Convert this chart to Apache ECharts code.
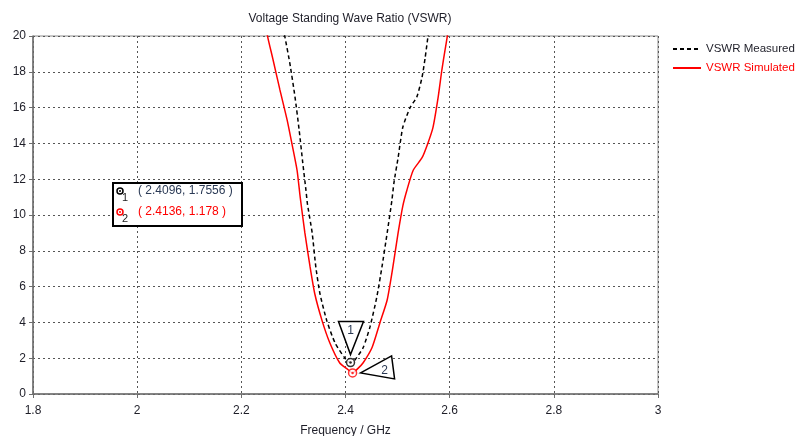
<!DOCTYPE html>
<html>
<head>
<meta charset="utf-8">
<script src="https://cdn.jsdelivr.net/npm/echarts@6/dist/echarts.min.js"></script>
<style>
  html, body { margin: 0; padding: 0; background: #fff; }
  #main { width: 797px; height: 436px; }
</style>
</head>
<body>
<div id="main"></div>
<script>
// measured curve (GHz, VSWR)
var freqMeasured = [2.270, 2.284, 2.293, 2.303, 2.311, 2.318, 2.324, 2.327, 2.336, 2.343, 2.351, 2.364, 2.380, 2.399, 2.4096, 2.418, 2.434, 2.447, 2.460, 2.470, 2.480, 2.489, 2.493, 2.501, 2.510, 2.524, 2.537, 2.547, 2.553, 2.558, 2.563];
var vswrMeasured = [22.0, 19.9, 18.5, 16.6, 14.75, 12.9, 11.4, 10.6, 9.0, 7.1, 5.6, 4.1, 2.85, 2.0, 1.7556, 1.9, 2.6, 3.75, 5.4, 7.1, 9.0, 10.8, 11.8, 13.2, 14.9, 16.0, 16.6, 17.7, 18.8, 19.9, 21.0];
// simulated curve
var freqSimulated = [2.240, 2.251, 2.261, 2.274, 2.288, 2.297, 2.307, 2.313, 2.322, 2.332, 2.341, 2.355, 2.370, 2.389, 2.402, 2.4136, 2.424, 2.4336, 2.451, 2.466, 2.480, 2.491, 2.501, 2.510, 2.518, 2.530, 2.547, 2.558, 2.568, 2.578, 2.585, 2.591, 2.595, 2.600];
var vswrSimulated = [21.5, 19.9, 18.66, 17.0, 15.3, 14.0, 12.5, 11.0, 9.0, 7.1, 5.6, 4.1, 2.85, 1.73, 1.43, 1.178, 1.43, 1.73, 2.6, 3.97, 5.25, 7.1, 9.0, 10.5, 11.4, 12.5, 13.2, 14.0, 14.9, 16.6, 18.1, 19.2, 19.9, 21.0];
// markers
var markerNames = ['1', '2'];
var markerFreq = [2.4096, 2.4136];
var markerVswr = [1.7556, 1.178];
var markerColors = ['#000000', '#ff0000'];
var seriesNames = ['VSWR Measured', 'VSWR Simulated'];

var fontFam = '"Liberation Sans", Arial, sans-serif';

function zip(xs, ys) {
  return xs.map(function (x, i) { return [x, ys[i]]; });
}

var chart = echarts.init(document.getElementById('main'));
var option = {
  animation: false,
  textStyle: { fontFamily: fontFam },
  title: {
    text: 'Voltage Standing Wave Ratio (VSWR)',
    left: 345, top: 8, textAlign: 'center',
    textStyle: { fontSize: 12, fontWeight: 'normal', color: '#1e1e28', fontFamily: fontFam }
  },
  legend: {
    data: [
      { name: seriesNames[0], textStyle: { color: '#1e1e28' } },
      { name: seriesNames[1], textStyle: { color: '#ff0000' } }
    ],
    orient: 'vertical',
    left: 672, top: 43, padding: 0,
    itemWidth: 28, itemHeight: 12, itemGap: 7,
    itemStyle: { opacity: 0 },
    textStyle: { fontSize: 11.5, fontFamily: fontFam }
  },
  grid: {
    left: 33, right: 139, top: 36, bottom: 42,
    outerBoundsMode: 'none',
    show: true, borderColor: '#8c8c8c', borderWidth: 1
  },
  xAxis: {
    type: 'value', min: 1.8, max: 3, interval: 0.2,
    name: 'Frequency / GHz', nameLocation: 'middle', nameGap: 31,
    nameTextStyle: { fontSize: 12, color: '#1e1e28', fontFamily: fontFam },
    axisLine: { lineStyle: { color: '#6e6e6e', width: 1.5 } },
    axisTick: { show: true, length: 4, lineStyle: { color: '#6e6e6e' } },
    axisLabel: { fontSize: 12, color: '#1e1e28', margin: 11,
      formatter: function (v) { return String(Math.round(v * 10) / 10); } },
    splitLine: { lineStyle: { color: '#555', type: [2, 3], width: 1 } }
  },
  yAxis: {
    type: 'value', min: 0, max: 20, interval: 2,
    axisLine: { show: true, lineStyle: { color: '#6e6e6e', width: 1.5 } },
    axisTick: { show: true, length: 4, lineStyle: { color: '#6e6e6e' } },
    axisLabel: { fontSize: 12, color: '#1e1e28', margin: 7 },
    splitLine: { lineStyle: { color: '#555', type: [2, 3], width: 1 } }
  },
  series: [
    {
      name: seriesNames[0], type: 'line', symbol: 'none', smooth: 0.2, clip: true,
      data: zip(freqMeasured, vswrMeasured),
      lineStyle: { color: '#000', width: 1.5, type: [4, 3] },
      itemStyle: { color: '#000' }, z: 3
    },
    {
      name: seriesNames[1], type: 'line', symbol: 'none', smooth: 0.2, clip: true,
      data: zip(freqSimulated, vswrSimulated),
      lineStyle: { color: '#ff0000', width: 1.5 },
      itemStyle: { color: '#ff0000' }, z: 2
    },
    {
      name: 'marker ring', type: 'scatter', symbol: 'circle', symbolSize: 8, z: 5,
      data: markerFreq.map(function (f, i) {
        return { value: [f, markerVswr[i]],
          itemStyle: { color: '#fff', borderColor: markerColors[i], borderWidth: 1.5 } };
      })
    },
    {
      name: 'marker dot', type: 'scatter', symbol: 'circle', symbolSize: 2.5, z: 6,
      data: markerFreq.map(function (f, i) {
        return { value: [f, markerVswr[i]], itemStyle: { color: markerColors[i] } };
      })
    }
  ]
};
chart.setOption(option);

// callout triangles and the marker readout box
var p1 = chart.convertToPixel({ gridIndex: 0 }, [markerFreq[0], markerVswr[0]]);
var p2 = chart.convertToPixel({ gridIndex: 0 }, [markerFreq[1], markerVswr[1]]);
var triStyle = { fill: '#fff', stroke: '#000', lineWidth: 1.5 };
var graphics = [
  { type: 'polygon', z: 10, shape: { points: [[p1[0] - 12, p1[1] - 41], [p1[0] + 13, p1[1] - 41], [p1[0], p1[1] - 8]] }, style: triStyle },
  { type: 'text', z: 11, x: p1[0], y: p1[1] - 32, style: { text: markerNames[0], fill: '#2b3a55', fontSize: 12, fontFamily: fontFam, align: 'center', verticalAlign: 'middle' } },
  { type: 'polygon', z: 10, shape: { points: [[p2[0] + 8, p2[1]], [p2[0] + 39, p2[1] - 17], [p2[0] + 42, p2[1] + 6]] }, style: triStyle },
  { type: 'text', z: 11, x: p2[0] + 32, y: p2[1] - 2, style: { text: markerNames[1], fill: '#2b3a55', fontSize: 12, fontFamily: fontFam, align: 'center', verticalAlign: 'middle' } },
  { type: 'rect', z: 10, shape: { x: 113, y: 183, width: 129, height: 43 }, style: { fill: '#fff', stroke: '#000', lineWidth: 2 } }
];
markerNames.forEach(function (n, i) {
  var y = 191 + i * 21;
  graphics.push(
    { type: 'circle', z: 11, shape: { cx: 120, cy: y, r: 3 }, style: { fill: '#fff', stroke: markerColors[i], lineWidth: 1.5 } },
    { type: 'circle', z: 12, shape: { cx: 120, cy: y, r: 1 }, style: { fill: markerColors[i] } },
    { type: 'text', z: 11, x: 122, y: y + 7, style: { text: n, fill: '#222', fontSize: 11, fontFamily: fontFam, verticalAlign: 'middle' } },
    { type: 'text', z: 11, x: 138, y: y, style: { text: '( ' + markerFreq[i] + ', ' + markerVswr[i] + ' )', fill: i === 0 ? '#2b3a55' : '#ff0000', fontSize: 12, fontFamily: fontFam, verticalAlign: 'middle' } }
  );
});
chart.setOption({ graphic: graphics });
</script>
</body>
</html>
